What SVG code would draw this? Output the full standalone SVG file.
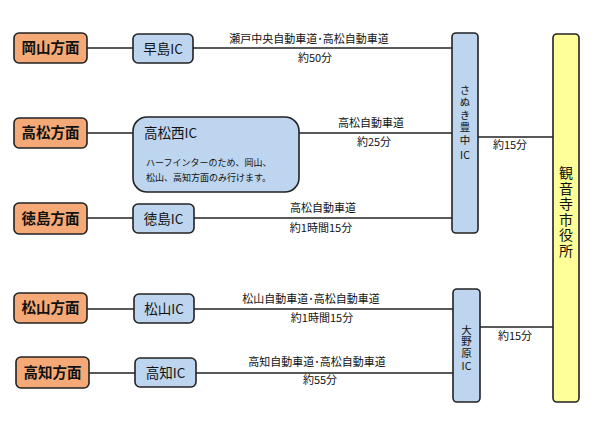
<svg xmlns="http://www.w3.org/2000/svg" width="600" height="421" viewBox="0 0 600 421">
<style>
text{font-family:"Noto Sans CJK JP","Noto Sans",sans-serif;fill:#111}
.org rect{fill:#f4a977;stroke:#222;stroke-width:1.6}
.ic rect{fill:#bdd5ee;stroke:#222;stroke-width:1.6}
.yl rect{fill:#ffff99;stroke:#222;stroke-width:1.6}
.big{font-size:14.5px;font-weight:bold}
.mid{font-size:13.5px}
.lbl{font-size:11px}
.note{font-size:9px}
.vt{font-size:10.5px}
.vert{writing-mode:vertical-rl;text-orientation:upright}
.vb{font-size:14px;letter-spacing:1.5px}
#connectors line{stroke:#222;stroke-width:1.5}
</style>
<rect width="600" height="421" fill="#fff"/>
<g id="connectors">
<line x1="87" y1="48" x2="133" y2="48"/>
<line x1="193" y1="48" x2="452" y2="48"/>
<line x1="87" y1="133" x2="133" y2="133"/>
<line x1="299" y1="133" x2="452" y2="133"/>
<line x1="87" y1="218" x2="133" y2="218"/>
<line x1="194" y1="218" x2="452" y2="218"/>
<line x1="478" y1="137" x2="553" y2="137"/>
<line x1="87" y1="309" x2="134" y2="309"/>
<line x1="194" y1="309" x2="453" y2="309"/>
<line x1="89" y1="373" x2="135" y2="373"/>
<line x1="196" y1="373" x2="453" y2="373"/>
<line x1="480" y1="327" x2="553" y2="327"/>
</g>
<g id="labels" class="lbl">
<text x="309" y="43" text-anchor="middle">瀬戸中央自動車道･高松自動車道</text>
<text x="315" y="62" text-anchor="middle">約50分</text>
<text x="371" y="127" text-anchor="middle">高松自動車道</text>
<text x="374" y="146" text-anchor="middle">約25分</text>
<text x="510" y="149" text-anchor="middle">約15分</text>
<text x="323" y="212" text-anchor="middle">高松自動車道</text>
<text x="321" y="232" text-anchor="middle">約1時間15分</text>
<text x="311" y="303" text-anchor="middle">松山自動車道･高松自動車道</text>
<text x="322" y="322" text-anchor="middle">約1時間15分</text>
<text x="317" y="366" text-anchor="middle">高知自動車道･高松自動車道</text>
<text x="320" y="384" text-anchor="middle">約55分</text>
<text x="515" y="340" text-anchor="middle">約15分</text>
</g>
<g id="okayama" class="org"><rect x="14" y="33" width="73" height="30" rx="5"/><text class="big" x="50.5" y="53" text-anchor="middle">岡山方面</text></g>
<g id="takamatsu" class="org"><rect x="14" y="118" width="73" height="30" rx="5"/><text class="big" x="50.5" y="138" text-anchor="middle">高松方面</text></g>
<g id="tokushima" class="org"><rect x="14" y="203" width="73" height="31" rx="5"/><text class="big" x="50.5" y="223.5" text-anchor="middle">徳島方面</text></g>
<g id="matsuyama" class="org"><rect x="14" y="293" width="73" height="30" rx="5"/><text class="big" x="50.5" y="313" text-anchor="middle">松山方面</text></g>
<g id="kochi" class="org"><rect x="16" y="357" width="73" height="31" rx="5"/><text class="big" x="52.5" y="377.5" text-anchor="middle">高知方面</text></g>
<g id="hayashima-ic" class="ic"><rect x="133" y="34" width="60" height="29" rx="5"/><text class="mid" x="163" y="53.5" text-anchor="middle">早島IC</text></g>
<g id="takamatsunishi-ic" class="ic"><rect x="133" y="117" width="166" height="75" rx="14"/><text class="mid" x="144" y="138">高松西IC</text><text class="note" x="146" y="166">ハーフインターのため、岡山、</text><text class="note" x="146" y="181">松山、高知方面のみ行けます。</text></g>
<g id="tokushima-ic" class="ic"><rect x="133" y="204" width="61" height="29" rx="5"/><text class="mid" x="163.5" y="223.5" text-anchor="middle">徳島IC</text></g>
<g id="matsuyama-ic" class="ic"><rect x="134" y="294" width="60" height="29" rx="5"/><text class="mid" x="164" y="313.5" text-anchor="middle">松山IC</text></g>
<g id="kochi-ic" class="ic"><rect x="135" y="358" width="61" height="29" rx="5"/><text class="mid" x="165.5" y="377.5" text-anchor="middle">高知IC</text></g>
<g id="sanukitoyonaka-ic" class="ic"><rect x="452" y="33" width="26" height="200" rx="4"/>
<text class="vt vert" x="465" y="84.5" style="letter-spacing:2px">さぬき豊中</text>
<text class="vt" x="465" y="159" text-anchor="middle">IC</text></g>
<g id="onohara-ic" class="ic"><rect x="453" y="289" width="27" height="113" rx="4"/>
<text class="vt vert" x="466.5" y="324.5" style="letter-spacing:1px">大野原</text>
<text class="vt" x="466.5" y="369.5" text-anchor="middle">IC</text></g>
<g id="kanonji-city-hall" class="yl"><rect x="553" y="34" width="26" height="368" rx="4"/>
<text class="vb vert" x="566" y="166">観音寺市役所</text></g>
</svg>
